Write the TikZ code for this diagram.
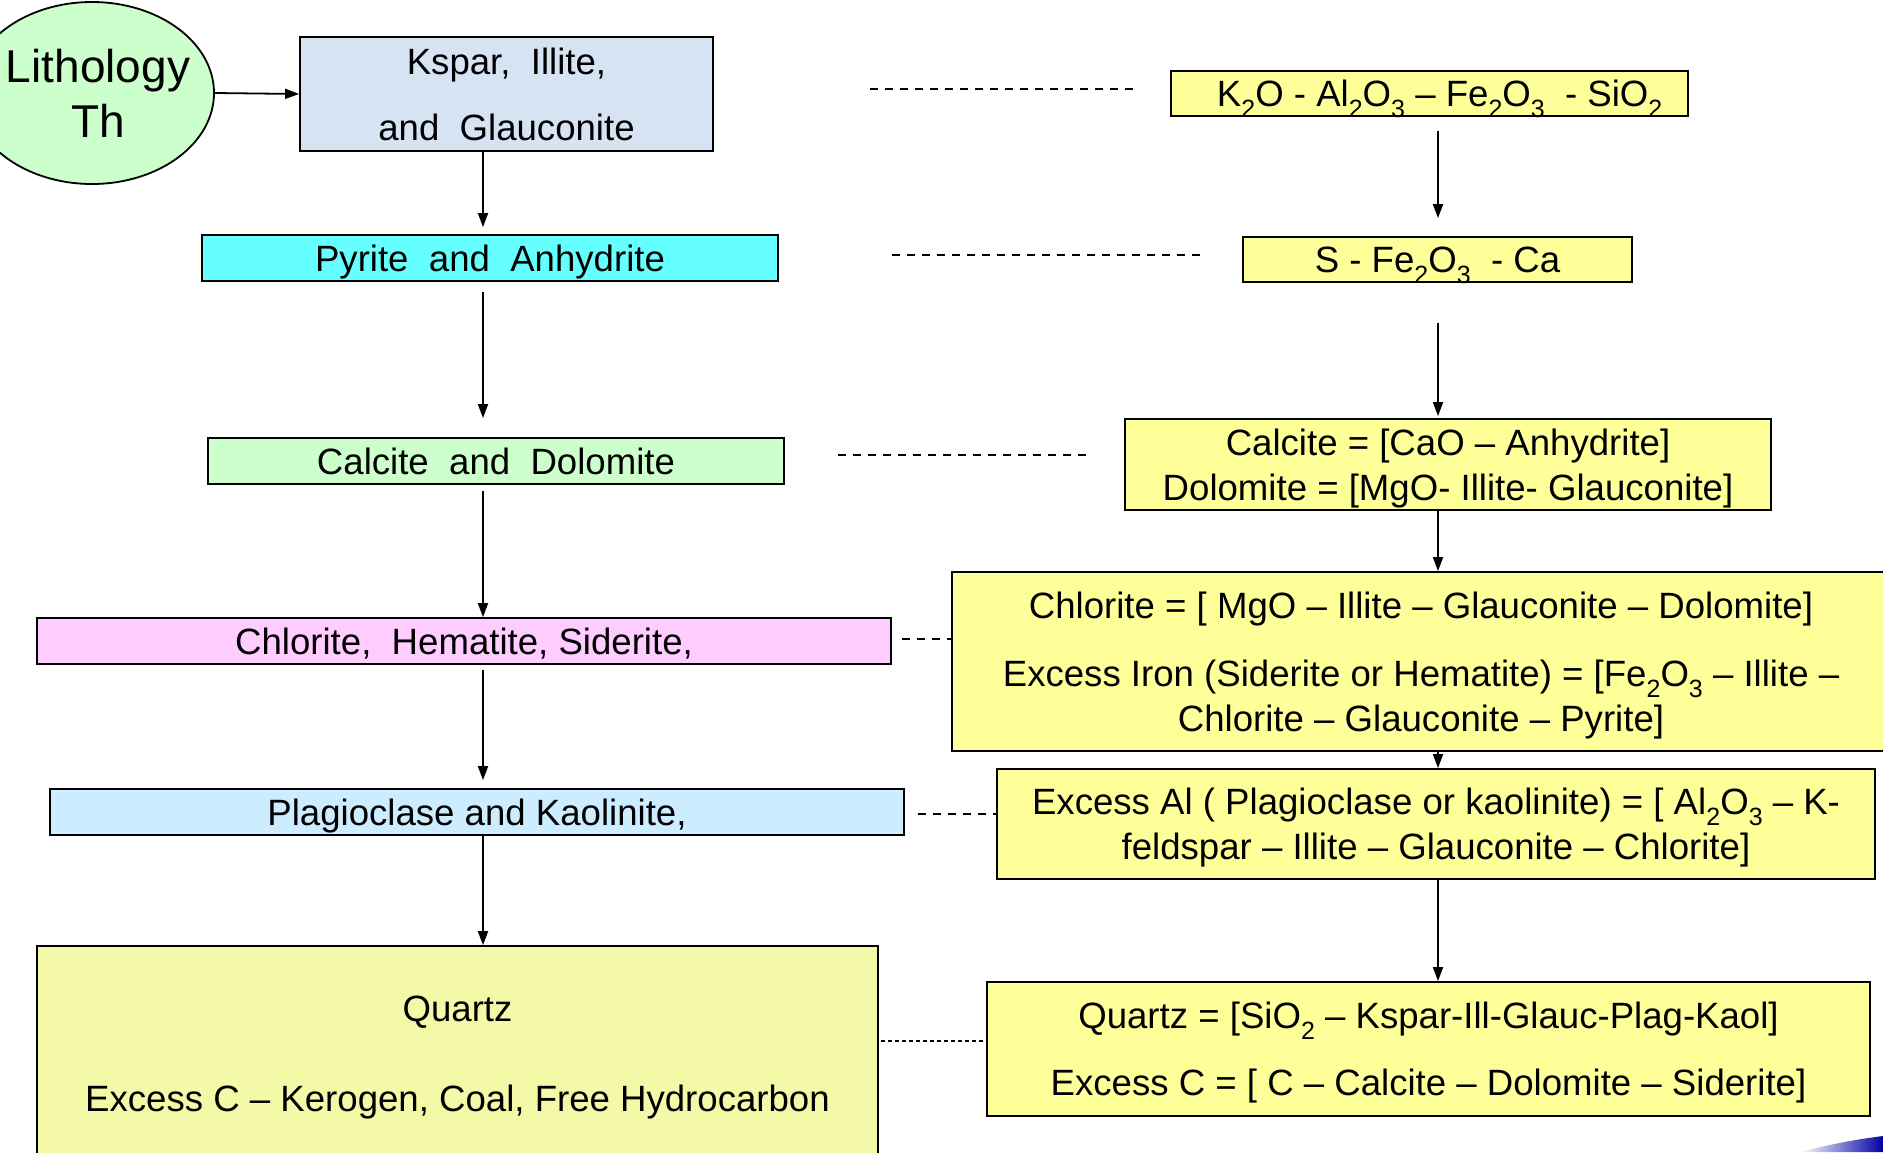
\documentclass[tikz,border=0pt]{standalone}
\usepackage{fontspec}
\setmainfont{Liberation Sans}
\usetikzlibrary{shapes.geometric,arrows.meta}
\definecolor{lithgreen}{HTML}{CCFFCC}
\definecolor{ksparblue}{HTML}{D5E3F2}
\definecolor{pyritecyan}{HTML}{66FFFF}
\definecolor{chlorpink}{HTML}{FFCCFF}
\definecolor{plagblue}{HTML}{CCECFF}
\definecolor{quartzyel}{HTML}{F3F9A6}
\definecolor{eqyellow}{HTML}{FFFF99}
\newcommand\chemsub[1]{\raisebox{-0.3em}{\fontsize{12.5}{12.5}\selectfont #1}}
\tikzset{
  mbox/.style={draw,line width=0.9pt,rectangle,inner sep=0pt,align=center,text depth=0pt,
    font=\fontsize{18.3}{22.5}\selectfont},
  eqbox/.style={mbox,fill=eqyellow},
  dashline/.style={line width=0.9pt,dash pattern=on 4pt off 3.5pt},
  flow/.style={line width=0.9pt,-{Triangle[length=7pt,width=5pt]}}
}
\begin{document}
\begin{tikzpicture}[x=0.5pt,y=-0.5pt]
  \useasboundingbox (0,0) rectangle (1883,1152);
  \coordinate (colL) at (483,0);
  \coordinate (colR) at (1438,0);
  % left column
  \node[draw,line width=0.9pt,ellipse,fill=lithgreen,minimum width=122pt,minimum height=91pt,
    label={[xshift=3pt,align=center,font=\fontsize{23}{27.5}\selectfont]center:Lithology\\Th}] (lith) at (92,93) {};
  \node[mbox,fill=ksparblue,minimum width=206.5pt,minimum height=57pt] (kspar) at (506.5,94)
    {Kspar,\ \ Illite,\\[10.5pt]and\ \ Glauconite};
  \node[mbox,fill=pyritecyan,minimum width=288pt,minimum height=23pt] (pyrite) at (490,258)
    {Pyrite\ \ and\ \ Anhydrite};
  \node[mbox,fill=lithgreen,minimum width=288pt,minimum height=23pt] (calcL) at (496,461)
    {Calcite\ \ and\ \ Dolomite};
  \node[mbox,fill=chlorpink,minimum width=427pt,minimum height=23pt] (chlorL) at (464,641)
    {Chlorite,\ \ Hematite, Siderite,};
  \node[mbox,fill=plagblue,minimum width=427pt,minimum height=23pt] (plag) at (477,812)
    {Plagioclase and Kaolinite,};
  \node[mbox,fill=quartzyel,minimum width=420.5pt,minimum height=108pt] (quartzL) at (457.5,1054)
    {Quartz\\[22.5pt]Excess C -- Kerogen, Coal, Free Hydrocarbon};
  % right column
  \node[eqbox,minimum width=258.5pt,minimum height=22.5pt] (k2o) at (1429.5,93.5)
    {\ \ K\chemsub{2}O - Al\chemsub{2}O\chemsub{3} -- Fe\chemsub{2}O\chemsub{3}\ \ - SiO\chemsub{2}};
  \node[eqbox,minimum width=194.5pt,minimum height=22.5pt] (sbox) at (1437.5,259.5)
    {S - Fe\chemsub{2}O\chemsub{3}\ \ - Ca};
  \node[eqbox,minimum width=323pt,minimum height=45.5pt] (calceq) at (1448,464.5)
    {Calcite = [CaO -- Anhydrite]\\Dolomite = [MgO- Illite- Glauconite]};
  \node[eqbox,minimum width=469pt,minimum height=89.5pt] (chloreq) at (1421,661.5)
    {Chlorite = [ MgO -- Illite -- Glauconite -- Dolomite]\\[11.5pt]
     Excess Iron (Siderite or Hematite) = [Fe\chemsub{2}O\chemsub{3} -- Illite --\\
     Chlorite -- Glauconite -- Pyrite]};
  \node[eqbox,minimum width=439pt,minimum height=55pt] (exal) at (1436,824)
    {Excess Al ( Plagioclase or kaolinite) = [ Al\chemsub{2}O\chemsub{3} -- K-\\
     feldspar -- Illite -- Glauconite -- Chlorite]};
  \node[eqbox,minimum width=441.5pt,minimum height=67pt] (quartzeq) at (1428.5,1049)
    {Quartz = [SiO\chemsub{2} -- Kspar-Ill-Glauc-Plag-Kaol]\\[11pt]
     Excess C = [ C -- Calcite -- Dolomite -- Siderite]};
  % arrows
  \path[flow] (lith.east) edge (kspar.west)
    (kspar.south -| colL) edge[shorten >=3.5pt] (pyrite.north -| colL)
    (pyrite.south -| colL) edge[shorten <=5pt,shorten >=9.5pt] (calcL.north -| colL)
    (calcL.south -| colL) edge[shorten <=3pt] (chlorL.north -| colL)
    (chlorL.south -| colL) edge[shorten <=2.5pt,shorten >=4pt] (plag.north -| colL)
    (plag.south -| colL) edge (quartzL.north -| colL)
    (k2o.south -| colR) edge[shorten <=7pt,shorten >=9pt] (sbox.north -| colR)
    (sbox.south -| colR) edge[shorten <=20pt,shorten >=1pt] (calceq.north -| colR)
    (calceq.south -| colR) edge (chloreq.north -| colR)
    (chloreq.south -| colR) edge (exal.north -| colR)
    (exal.south -| colR) edge (quartzeq.north -| colR);
  % dashed links
  \draw[dashline,shorten <=78pt,shorten >=17pt] ([yshift=2.5pt]kspar.east) -- ([yshift=2.5pt]kspar.east -| k2o.west);
  \draw[dashline,shorten <=56.5pt,shorten >=21pt] ([yshift=1.5pt]pyrite.east) -- ([yshift=1.5pt]pyrite.east -| sbox.west);
  \draw[dashline,shorten <=26.5pt,shorten >=16.5pt] ([yshift=3pt]calcL.east) -- ([yshift=3pt]calcL.east -| calceq.west);
  \draw[dashline,shorten <=5pt] ([yshift=1pt]chlorL.east) -- ([yshift=1pt]chlorL.east -| chloreq.west);
  \draw[dashline,shorten <=6.5pt] ([yshift=-1pt]plag.east) -- ([yshift=-1pt]plag.east -| exal.west);
  \draw[dashline,dash pattern=on 2pt off 1.5pt,shorten <=1pt] ([yshift=6.5pt]quartzL.east) -- ([yshift=6.5pt]quartzL.east -| quartzeq.west);
  % corner swoosh
  \shade[left color=white,right color=blue!65!black] (1800,1152) .. controls (1840,1142) and (1860,1139) .. (1883,1136) -- (1883,1152) -- cycle;
\end{tikzpicture}
\end{document}
